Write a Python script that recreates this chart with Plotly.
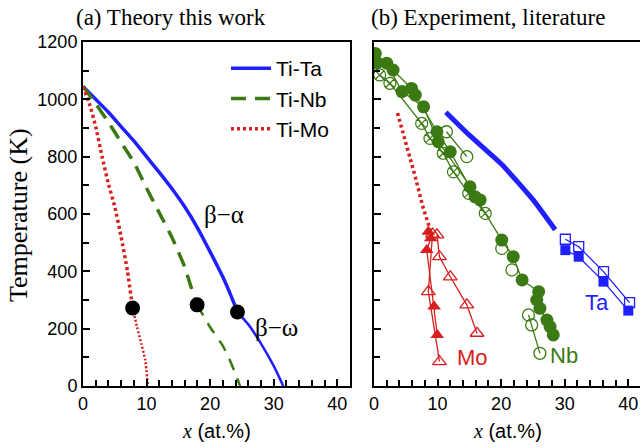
import plotly.graph_objects as go

W, H = 640, 448
BLUE = "#1f1fff"
GREEN = "#3b7a12"
RED = "#d81e1e"

# ---------------- panel (a): theory ----------------
ta_a_x = [0, 2, 4, 6, 8, 10, 12, 14, 16, 18, 20, 22, 23, 24.3]
ta_a_T = [1045, 1000, 955, 905, 855, 800, 745, 688, 625, 552, 468, 380, 330, 258]
ta_w_x = [24.3, 26, 28, 30, 31.5]
ta_w_T = [258, 215, 148, 70, 0]

nb_a_x = [0, 2, 4, 6, 8, 10, 12, 14, 16, 17, 17.95]
nb_a_T = [1045, 985, 920, 850, 780, 690, 604, 518, 415, 345, 283]
nb_w_x = [17.95, 20, 22, 23, 24, 24.7]
nb_w_T = [283, 205, 140, 95, 42, 0]

mo_a_x = [0, 1, 2, 3, 4, 5, 6, 7, 7.8]
mo_a_T = [1045, 985, 905, 800, 705, 625, 520, 400, 272]
mo_w_x = [7.8, 8.5, 9.2, 9.8, 10.2]
mo_w_T = [272, 205, 145, 90, 0]

triple_x = [7.8, 17.95, 24.3]
triple_T = [272, 283, 258]

# ---------------- panel (b): experiment ----------------
ta_line_x = [11.3, 15, 20, 25, 28.5]
ta_line_T = [955, 875, 775, 650, 545]
ta_open_x = [30.1, 32.2, 36.1, 40.2]
ta_open_T = [512, 486, 399, 291]
ta_fill_x = [30.1, 32.2, 36.1, 40.0]
ta_fill_T = [474, 451, 364, 263]

mo_line_x = [3.7, 5.2, 6.5, 7.7, 8.8]
mo_line_T = [952, 834, 729, 624, 548]
mo_fill_x = [8.55, 8.93, 8.3, 9.45, 9.95]
mo_fill_T = [538, 515, 474, 277, 178]
mo_openA_x = [9.2, 8.55, 10.3]
mo_openA_T = [530, 329, 85]
mo_openB_x = [9.9, 10.3, 12.0, 14.6, 16.2]
mo_openB_T = [527, 451, 381, 283, 184]

nbA_x = [0.2, 2.0, 4.4, 7.8, 10.1, 15.1, 16.7]
nbA_T = [1160, 1126, 1027, 974, 852, 695, 649]
nbB_x = [0.4, 3.0, 5.9, 6.5, 9.9, 12.0, 15.9, 20.1, 21.9, 23.3, 25.9, 25.6, 26.1, 27.2, 27.7, 28.2]
nbB_T = [1126, 1102, 1038, 1015, 887, 817, 660, 509, 451, 370, 329, 300, 271, 230, 207, 178]
nbC_x = [0.9, 2.5, 7.5, 8.8, 10.9, 12.5, 14.9, 17.5]
nbC_T = [1085, 1056, 916, 864, 812, 747, 672, 602]
nbD_x = [11.4, 14.6]
nbD_T = [887, 800]
nbE_x = [20.1, 21.7]
nbE_T = [480, 405]
nbF_x = [24.3, 24.8, 26.1]
nbF_T = [248, 213, 114]

x_ticks = [0, 10, 20, 30, 40]
y_ticks = [0, 200, 400, 600, 800, 1000, 1200]

fig = go.Figure()

def add(x, T, ax, **kw):
    kw.setdefault("showlegend", False)
    fig.add_trace(go.Scatter(x=x, y=T, xaxis="x" if ax == 1 else "x2",
                             yaxis="y" if ax == 1 else "y2", **kw))

sp = dict(shape="spline", smoothing=0.5)
# panel (a)
add(ta_a_x, ta_a_T, 1, mode="lines", name="Ti-Ta", showlegend=True,
    line=dict(color=BLUE, width=3.5, **sp))
add(nb_a_x, nb_a_T, 1, mode="lines", name="Ti-Nb", showlegend=True,
    line=dict(color=GREEN, width=3.5, dash="15px,9px", **sp))
add(mo_a_x, mo_a_T, 1, mode="lines", name="Ti-Mo", showlegend=True,
    line=dict(color=RED, width=3.5, dash="3px,3px", **sp))
add(ta_w_x, ta_w_T, 1, mode="lines", line=dict(color=BLUE, width=2.5, **sp))
add(nb_w_x, nb_w_T, 1, mode="lines", line=dict(color=GREEN, width=2.5, dash="12px,9px", **sp))
add(mo_w_x, mo_w_T, 1, mode="lines", line=dict(color=RED, width=2.5, dash="2px,2px", **sp))
add(triple_x, triple_T, 1, mode="markers", marker=dict(color="black", size=15))

# panel (b)
thin = 1.3
add(ta_line_x, ta_line_T, 2, mode="lines", line=dict(color=BLUE, width=5, **sp))
add(mo_line_x, mo_line_T, 2, mode="lines", line=dict(color=RED, width=3.5, dash="3px,3px"))
add(ta_open_x, ta_open_T, 2, mode="lines+markers", line=dict(color=BLUE, width=thin),
    marker=dict(symbol="square-open", size=10, color=BLUE, line=dict(width=1.3)))
add(ta_fill_x, ta_fill_T, 2, mode="lines+markers", line=dict(color=BLUE, width=thin),
    marker=dict(symbol="square", size=10, color=BLUE))
add(mo_fill_x, mo_fill_T, 2, mode="lines+markers", line=dict(color=RED, width=thin),
    marker=dict(symbol="triangle-up", size=12, color=RED))
add(mo_openA_x, mo_openA_T, 2, mode="lines+markers", line=dict(color=RED, width=thin),
    marker=dict(symbol="triangle-up-open", size=12, color=RED, line=dict(width=1.3)))
add(mo_openB_x, mo_openB_T, 2, mode="lines+markers", line=dict(color=RED, width=thin),
    marker=dict(symbol="triangle-up-open", size=12, color=RED, line=dict(width=1.3)))
add(nbA_x, nbA_T, 2, mode="lines+markers", line=dict(color=GREEN, width=thin),
    marker=dict(symbol="circle", size=13, color=GREEN))
add(nbB_x, nbB_T, 2, mode="lines+markers", line=dict(color=GREEN, width=thin),
    marker=dict(symbol="circle", size=13, color=GREEN))
add(nbC_x, nbC_T, 2, mode="lines+markers", line=dict(color=GREEN, width=thin),
    marker=dict(symbol="circle-x-open", size=12, color=GREEN, line=dict(width=1.2)))
add(nbD_x, nbD_T, 2, mode="lines+markers", line=dict(color=GREEN, width=thin),
    marker=dict(symbol="circle-open", size=12, color=GREEN, line=dict(width=1.3)))
add(nbE_x, nbE_T, 2, mode="markers",
    marker=dict(symbol="circle-open", size=12, color=GREEN, line=dict(width=1.3)))
add(nbF_x, nbF_T, 2, mode="lines+markers", line=dict(color=GREEN, width=thin),
    marker=dict(symbol="circle-open", size=12, color=GREEN, line=dict(width=1.3)))

tickfont = dict(family="Liberation Sans, Arial", size=18, color="black")
axcommon = dict(showgrid=False, zeroline=False, showline=True, linecolor="black",
                linewidth=2, mirror=True, ticks="inside", ticklen=7, tickwidth=1.5,
                tickcolor="black", tickfont=tickfont, automargin=False)

px = lambda p: p / W
py = lambda p: 1 - p / H
mx = lambda: dict(dtick=2, ticks="inside", ticklen=6, tickwidth=1.5, tickcolor="black")
my = lambda: dict(dtick=100, ticks="inside", ticklen=6, tickwidth=1.5, tickcolor="black")

fig.update_layout(
    template="none",
    width=W, height=H, margin=dict(l=0, r=0, t=0, b=0, pad=0),
    paper_bgcolor="white", plot_bgcolor="white",
    xaxis=dict(domain=[px(83), px(350)], range=[0, 42], tickvals=x_ticks,
               minor=mx(), anchor="y", **axcommon),
    yaxis=dict(domain=[py(386), py(42)], range=[0, 1200], tickvals=y_ticks,
               minor=my(), anchor="x", **axcommon),
    xaxis2=dict(domain=[px(374), 1.0], range=[0, 42 * (640 - 374) / (641 - 374)],
                tickvals=x_ticks, minor=mx(), anchor="y2", **axcommon),
    yaxis2=dict(domain=[py(386), py(42)], range=[0, 1200], tickvals=y_ticks,
                showticklabels=False, minor=my(), anchor="x2", **axcommon),
    legend=dict(x=px(226), y=py(48), xanchor="left", yanchor="top",
                bgcolor="rgba(0,0,0,0)", borderwidth=0,
                font=dict(family="Liberation Sans, Arial", size=21, color="black"),
                tracegroupgap=0, itemwidth=40),
)

serif = "Liberation Serif, Times New Roman"
sans = "Liberation Sans, Arial"
ann = []
ann.append(dict(text="(a) Theory this work", x=px(74), y=py(18), xref="paper", yref="paper",
                xanchor="left", yanchor="middle", showarrow=False,
                font=dict(family=serif, size=23, color="black")))
ann.append(dict(text="(b) Experiment, literature", x=px(369), y=py(18), xref="paper", yref="paper",
                xanchor="left", yanchor="middle", showarrow=False,
                font=dict(family=serif, size=23, color="black")))
ann.append(dict(text="Temperature (K)", x=px(18), y=py(215), xref="paper", yref="paper",
                textangle=-90, showarrow=False, xanchor="center", yanchor="middle",
                font=dict(family=serif, size=26, color="black")))
xt = "<span style='font-family:Liberation Serif'><i>x</i></span> (at.%)"
ann.append(dict(text=xt, x=px(216), y=py(431), xref="paper", yref="paper", showarrow=False,
                xanchor="center", yanchor="middle", font=dict(family=sans, size=20, color="black")))
ann.append(dict(text=xt, x=px(507), y=py(431), xref="paper", yref="paper", showarrow=False,
                xanchor="center", yanchor="middle", font=dict(family=sans, size=20, color="black")))
ann.append(dict(text="β−α", x=22.2, y=600, xref="x", yref="y", showarrow=False,
                font=dict(family=serif, size=25, color="black")))
ann.append(dict(text="β−ω", x=30.5, y=205, xref="x", yref="y", showarrow=False,
                font=dict(family=serif, size=25, color="black")))
ann.append(dict(text="Mo", x=15.5, y=100, xref="x2", yref="y2", showarrow=False,
                font=dict(family=sans, size=22, color=RED)))
ann.append(dict(text="Nb", x=29.9, y=105, xref="x2", yref="y2", showarrow=False,
                font=dict(family=sans, size=22, color=GREEN)))
ann.append(dict(text="Ta", x=35.1, y=290, xref="x2", yref="y2", showarrow=False,
                font=dict(family=sans, size=22, color=BLUE)))
fig.update_layout(annotations=ann)

fig.write_html("out.html")
